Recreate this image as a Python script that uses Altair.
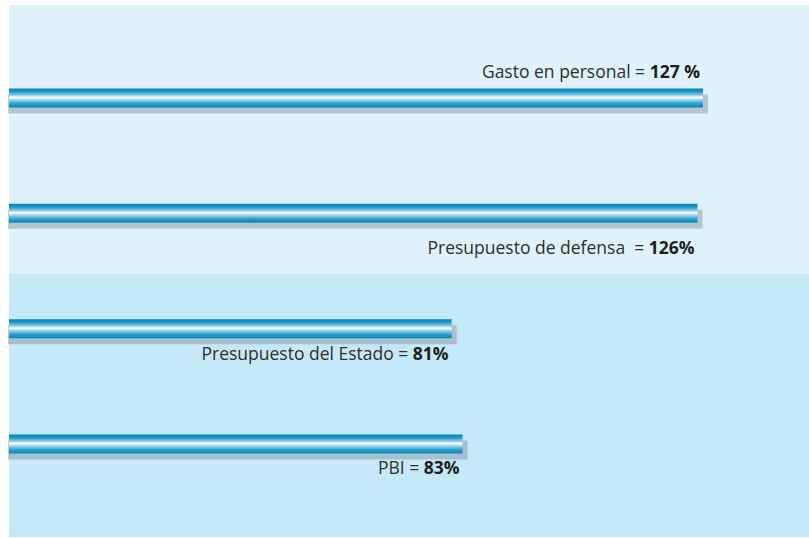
import altair as alt
import pandas as pd

# ---- data ----
categories = ["Gasto en personal", "Presupuesto de defensa", "Presupuesto del Estado", "PBI"]
values = [127, 126, 81, 83]
label_text = ["Gasto en personal =", "Presupuesto de defensa \u00a0=", "Presupuesto del Estado =", "PBI ="]
value_text = ["127 %", "126%", "81%", "83%"]

# ---- layout / style ----
W, H = 800, 532
XMAX = 146.4
FS = 17.5
FONT = "Open Sans"
ppu = W / XMAX
GAP = 5
LABEL_DY = {
    "Gasto en personal": -20.5,
    "Presupuesto de defensa": 40.5,
    "Presupuesto del Estado": 31.5,
    "PBI": 30.5,
}
bold_em = {d: 0.572 for d in "0123456789"}
bold_em.update({"%": 0.874, " ": 0.26})


def bold_width(s):
    return sum(bold_em.get(c, 0.6) for c in s) * FS


df = pd.DataFrame({
    "cat": categories,
    "value": values,
    "label": label_text,
    "vtext": value_text,
})
df["shift"] = [(bold_width(s) + GAP) / ppu for s in value_text]

xscale = alt.Scale(domain=[0, XMAX], nice=False, zero=True)
yscale = alt.Scale(domain=categories, paddingInner=0.835, paddingOuter=0.724)

base = alt.Chart(df)

bg_top = base.mark_rect(color="#e0f2fc").encode(
    x=alt.value(0), x2=alt.value(W), y=alt.value(0), y2=alt.value(269)
)
bg_bot = base.mark_rect(color="#c6e9f9").encode(
    x=alt.value(0), x2=alt.value(W), y=alt.value(269), y2=alt.value(H)
)

shadow = base.mark_bar(color="#7f8f99", opacity=0.45, xOffset=5, x2Offset=-1, yOffset=6).encode(
    x=alt.X("value:Q", scale=xscale, axis=None),
    x2=alt.datum(0),
    y=alt.Y("cat:N", scale=yscale, axis=None, sort=categories),
)

grad = alt.LinearGradient(
    gradient="linear",
    x1=0, x2=0, y1=0, y2=1,
    stops=[
        alt.GradientStop(offset=0.0, color="#0083b6"),
        alt.GradientStop(offset=0.15, color="#1896c6"),
        alt.GradientStop(offset=0.33, color="#7cc4e2"),
        alt.GradientStop(offset=0.47, color="#ffffff"),
        alt.GradientStop(offset=0.6, color="#9fd3eb"),
        alt.GradientStop(offset=0.8, color="#2c9fcd"),
        alt.GradientStop(offset=1.0, color="#0086b9"),
    ],
)

bars = base.mark_bar(color=grad).encode(
    x=alt.X("value:Q", scale=xscale, axis=None),
    y=alt.Y("cat:N", scale=yscale, axis=None, sort=categories),
)

layers = [bg_top, bg_bot, shadow, bars]
for c in categories:
    sub = base.transform_filter(alt.datum.cat == c)
    layers.append(
        sub.mark_text(align="right", baseline="alphabetic", dy=LABEL_DY[c], dx=-3,
                      fontSize=FS, font=FONT, fontWeight="bold", color="#1e1e1e").encode(
            x=alt.X("value:Q", scale=xscale, axis=None),
            y=alt.Y("cat:N", scale=yscale, axis=None, sort=categories),
            text="vtext:N",
        )
    )
    layers.append(
        sub.transform_calculate(xr="datum.value - datum.shift")
        .mark_text(align="right", baseline="alphabetic", dy=LABEL_DY[c], dx=-3,
                   fontSize=FS, font=FONT, color="#2e2e2e").encode(
            x=alt.X("xr:Q", scale=xscale, axis=None),
            y=alt.Y("cat:N", scale=yscale, axis=None, sort=categories),
            text="label:N",
        )
    )

chart = alt.layer(*layers).properties(
    width=W, height=H,
    padding={"left": 9, "top": 5, "right": 0, "bottom": 1},
    autosize="none",
    background="white",
).configure_view(stroke=None)

chart.save("out.html", embed_options={"renderer": "svg", "actions": False})
